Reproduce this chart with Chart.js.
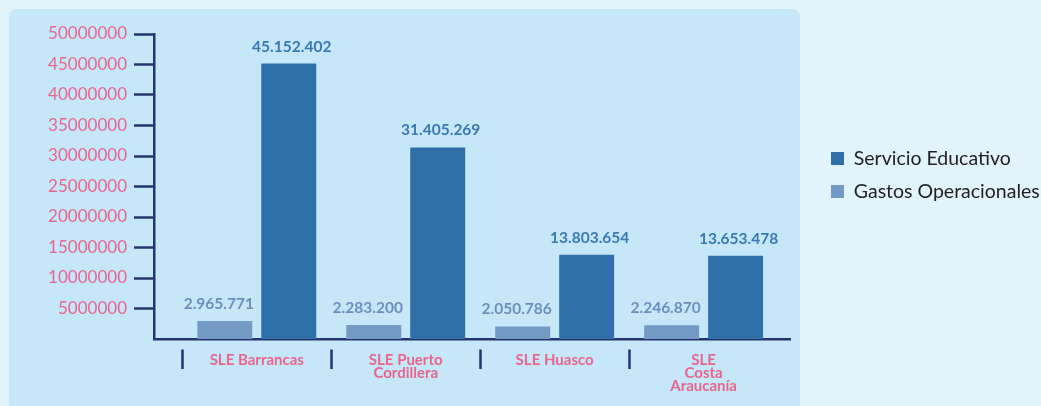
<!DOCTYPE html>
<html><head><meta charset="utf-8">
<script src="https://cdn.jsdelivr.net/npm/chart.js@4.4.1/dist/chart.umd.min.js"></script>
<style>
html,body{margin:0;padding:0;background:#E1F3FB;width:1041px;height:406px;overflow:hidden;}
#panel{position:absolute;left:9px;top:9px;width:791px;height:420px;background:#C5E7F8;border-radius:8px;}
#wrap{position:absolute;left:0;top:0;width:1041px;height:406px;}
</style></head><body>
<div id="panel"></div>
<div id="wrap"><canvas id="c" width="1041" height="406"></canvas></div>
<script>
// ---- data ----
const categories = [['SLE Barrancas'], ['SLE Puerto', 'Cordillera'], ['SLE Huasco'], ['SLE', 'Costa', 'Araucanía']];
const seriesNames = ['Gastos Operacionales', 'Servicio Educativo'];
const gastosOperacionales = [2965771, 2283200, 2050786, 2246870];
const servicioEducativo = [45152402, 31405269, 13803654, 13653478];
const yTickStep = 5000000;
const yMin = 0;
const yMax = 50000000;

// ---- styles ----
const NAVY = '#26346F';
const PINK = '#E9658F';
const COLORS = ['#7599C5', '#2F70A8'];
const LABEL_COLORS = ['#6E8EBC', '#3C78B1'];

const fmt = v => String(v).replace(/\B(?=(\d{3})+(?!\d))/g, '.');
const toPoints = arr => arr.map((v, i) => ({ x: i, y: v }));

const valueLabels = {
  id: 'valueLabels',
  afterDatasetsDraw(chart, args, opts) {
    const ctx = chart.ctx;
    ctx.save();
    ctx.font = 'bold 15.5px Lato';
    ctx.textAlign = 'center';
    ctx.textBaseline = 'alphabetic';
    chart.data.datasets.forEach((ds, i) => {
      const meta = chart.getDatasetMeta(i);
      ctx.fillStyle = opts.colors[i];
      meta.data.forEach((bar, j) => {
        ctx.fillText(fmt(ds.data[j].y), bar.x + opts.dx[i], bar.y - opts.gap);
      });
    });
    ctx.restore();
  }
};

new Chart(document.getElementById('c'), {
  type: 'bar',
  data: {
    datasets: [
      { label: seriesNames[0], data: toPoints(gastosOperacionales), backgroundColor: COLORS[0],
        categoryPercentage: 0.859, barPercentage: 0.859, borderWidth: 0 },
      { label: seriesNames[1], data: toPoints(servicioEducativo), backgroundColor: COLORS[1],
        categoryPercentage: 0.859, barPercentage: 0.859, borderWidth: 0 }
    ]
  },
  options: {
    responsive: false,
    animation: false,
    devicePixelRatio: 1,
    layout: { padding: { top: 34, left: 0, right: 0, bottom: 0 } },
    scales: {
      x: {
        type: 'linear',
        min: -0.69, max: 3.58,
        offset: false,
        grid: {
          display: true, offset: true, drawOnChartArea: false, drawTicks: true,
          tickLength: 30, tickWidth: 2.5,
          tickBorderDash: [0, 9, 20, 100],
          color: NAVY,
          tickColor: (c) => c.type === 'tick' ? NAVY : 'rgba(0,0,0,0)'
        },
        border: { display: true, color: NAVY, width: 2.5 },
        ticks: {
          stepSize: 1, includeBounds: false, autoSkip: false, maxRotation: 0,
          padding: -15,
          color: PINK,
          font: { family: 'Lato', size: 15, weight: 'bold', lineHeight: 0.87 },
          callback: (v) => categories[v] !== undefined ? categories[v] : ''
        },
        afterFit: (s) => { s.height = 67; }
      },
      y: {
        min: yMin, max: yMax,
        grid: { display: true, drawOnChartArea: false, drawTicks: true, tickLength: 20, tickWidth: 2.5, color: NAVY, tickColor: NAVY },
        border: { display: true, color: NAVY, width: 2.5 },
        ticks: {
          stepSize: yTickStep, padding: 7, color: PINK,
          font: { family: 'Lato', size: 17 },
          callback: (v) => String(v)
        },
        afterBuildTicks: (s) => { s.ticks = s.ticks.filter(t => t.value !== 0); },
        afterFit: (s) => { s.width = 154; }
      },
      spacer: {
        position: 'right', display: true,
        grid: { display: false }, border: { display: false }, ticks: { display: false },
        afterFit: (s) => { s.width = 27.5; }
      }
    },
    plugins: {
      legend: {
        position: 'right', align: 'start', reverse: true, maxWidth: 223.5,
        title: { display: true, text: '', font: { size: 10, lineHeight: 1 }, padding: { top: 91.25, bottom: 0 } },
        labels: { boxWidth: 13, boxHeight: 13, padding: 13.5, color: '#1F1F1F', font: { family: 'Lato', size: 19.5 } }
      },
      tooltip: { enabled: false },
      valueLabels: { colors: LABEL_COLORS, dx: [-6, 3], gap: 12 }
    }
  },
  plugins: [valueLabels]
});
</script>
</body></html>
